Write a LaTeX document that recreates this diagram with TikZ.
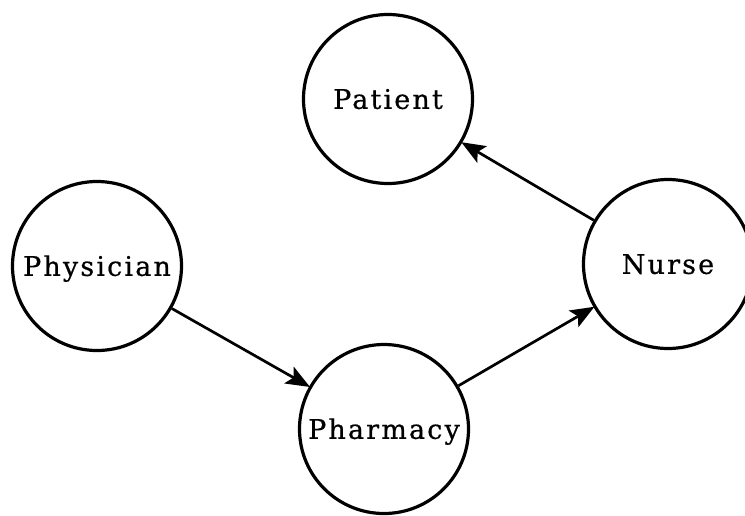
\documentclass[tikz,border=0pt]{standalone}
\usepackage{fontspec}
\newfontfamily\lblfont{DejaVu Serif}[LetterSpace=8, FakeBold=0.6]
\usetikzlibrary{arrows.meta}
\tikzset{
  state/.style={draw, circle, line width=3.2pt, inner sep=0pt, minimum size=169pt,
    font=\lblfont\fontsize{27}{32}\selectfont,
    text height=19.7pt, text depth=0pt},
  flow/.style={line width=2.7pt, -{Stealth[length=24pt,width=19pt,inset=5pt]}, shorten >=-1pt}
}
\begin{document}
\begin{tikzpicture}[x=1pt,y=-1pt]
\useasboundingbox (0,0) rectangle (745,515);
\node[state] (patient)   at (388,99)  {Patient};
\node[state] (physician) at (97,266)  {Physician};
\node[state] (nurse)     at (668,264) {Nurse};
\node[state] (pharmacy)  at (384,429) {Pharmacy};
\draw[flow] (physician) -- (pharmacy);
\draw[flow] (pharmacy) -- (nurse);
\draw[flow] (nurse) -- (patient);
\end{tikzpicture}
\end{document}
